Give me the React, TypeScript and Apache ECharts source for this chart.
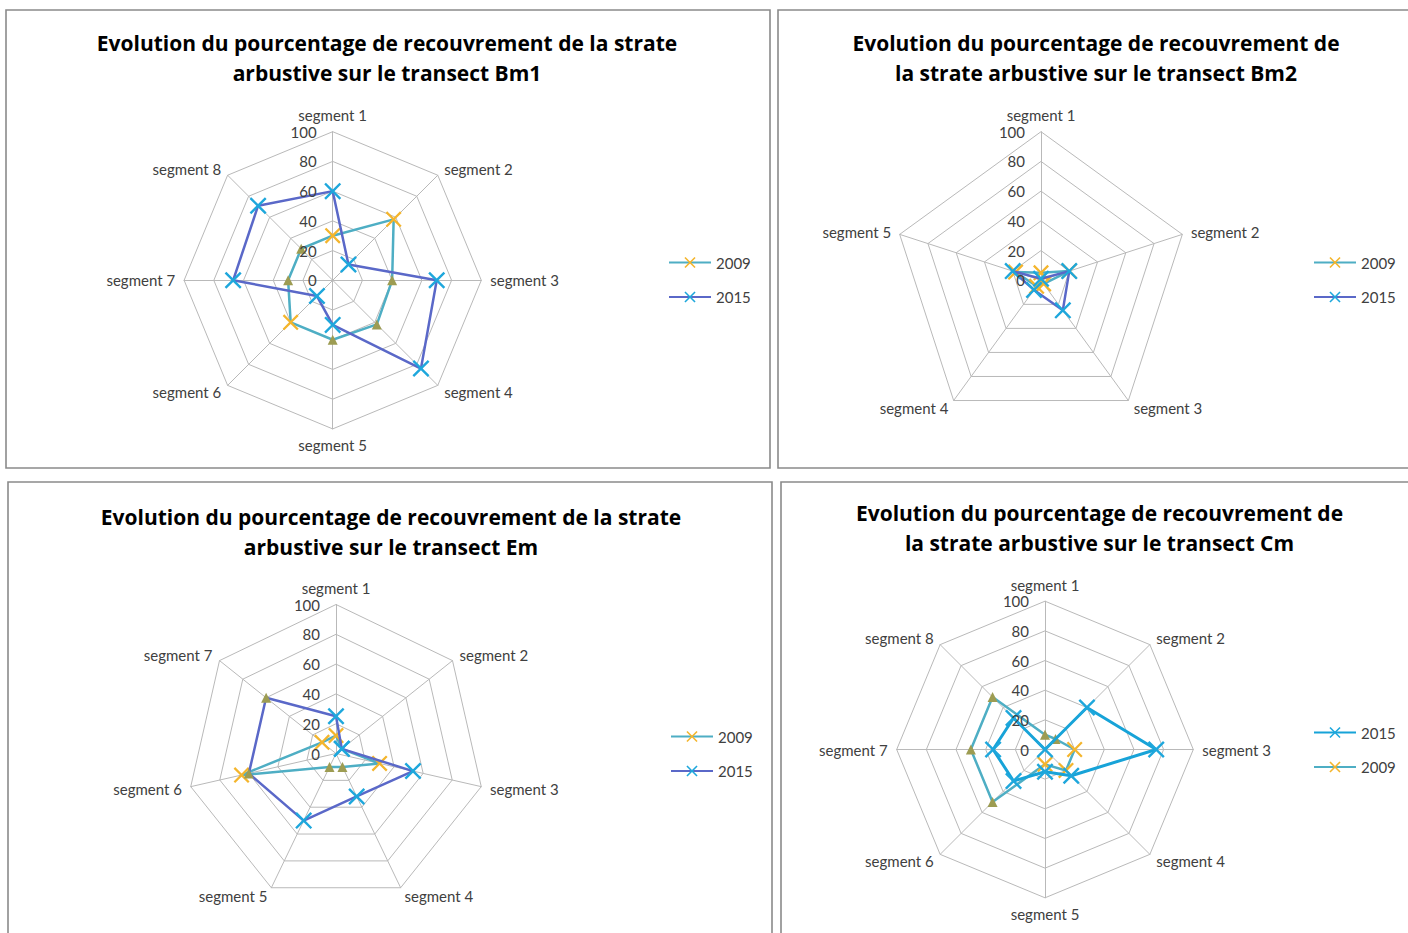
import React, { useEffect, useRef } from 'react';
import * as echarts from 'echarts';

// ---------- DATA ----------
const bm1Segments = ['segment 1', 'segment 2', 'segment 3', 'segment 4', 'segment 5', 'segment 6', 'segment 7', 'segment 8'];
const bm1Values2009 = [30, 58, 40, 42, 40, 40, 30, 30];
const bm1Values2015 = [60, 15, 70, 84, 30, 15, 67, 71];
const bm1Markers2009 = ['xy', 'xy', 'tri', 'tri', 'tri', 'xy', 'tri', 'tri'];
const bm1Markers2015 = ['xc', 'xc', 'xc', 'xc', 'xc', 'xc', 'xc', 'xc'];

const bm2Segments = ['segment 1', 'segment 2', 'segment 3', 'segment 4', 'segment 5'];
const bm2Values2009 = [5, 20, 3, 5, 18];
const bm2Values2015 = [1, 20, 25, 8, 20];
const bm2Markers2009 = ['xy', 'xy', 'xy', 'xy', 'xy'];
const bm2Markers2015 = ['xc', 'xc', 'xc', 'xc', 'xc'];

const emSegments = ['segment 1', 'segment 2', 'segment 3', 'segment 4', 'segment 5', 'segment 6', 'segment 7'];
const emValues2009 = [12, 5, 30, 10, 10, 65, 12];
const emValues2015 = [25, 5, 53, 32, 50, 60, 60];
const emMarkers2009 = ['xy', 'xc', 'xy', 'tri', 'tri', 'xy', 'xy'];
const emMarkers2015 = ['xc', 'xc', 'xc', 'xc', 'xc', 'tri', 'tri'];

const cmSegments = ['segment 1', 'segment 2', 'segment 3', 'segment 4', 'segment 5', 'segment 6', 'segment 7', 'segment 8'];
const cmValues2015 = [0, 40, 75, 25, 15, 30, 35, 30];
const cmValues2009 = [10, 10, 20, 20, 10, 50, 50, 50];
const cmMarkers2015 = ['xc', 'xc', 'xc', 'xc', 'xc', 'xc', 'xc', 'xc'];
const cmMarkers2009 = ['tri', 'tri', 'xy', 'xy', 'xy', 'tri', 'tri', 'tri'];

const axisMax = 100;
const axisInterval = 20;

const titleBm1 = ['Evolution du pourcentage de recouvrement de la strate', 'arbustive sur le transect Bm1'];
const titleBm2 = ['Evolution du pourcentage de recouvrement de', 'la strate arbustive sur le transect Bm2'];
const titleEm = ['Evolution du pourcentage de recouvrement de la strate', 'arbustive sur le transect Em'];
const titleCm = ['Evolution du pourcentage de recouvrement de', 'la strate arbustive sur le transect Cm'];

// ---------- STYLE ----------
const FONT = 'Lato, "Open Sans", sans-serif';
const TITLE_FONT = '"Open Sans", Lato, sans-serif';
const TEXT = '#404040';
const GRID = '#b9b9b9';
const X_PATH = 'path://M0,1L1,0L5,4L9,0L10,1L6,5L10,9L9,10L5,6L1,10L0,9L4,5Z';
const YELLOW = '#f4b52c';
const CYAN = '#1ea7dc';
const OLIVE = '#9d9c52';
const TEAL = '#4eaec4';
const BLUE = '#5a68c8';
const CM_CYAN = '#17a3d8';

const markerStyle: Record<string, { symbol: string; size: number; color: string }> = {
  xy: { symbol: X_PATH, size: 16, color: YELLOW },
  xc: { symbol: X_PATH, size: 17, color: CYAN },
  tri: { symbol: 'triangle', size: 10, color: OLIVE },
};

type Panel = {
  key: string;
  segments: string[];
  center: [number, number];
  radius: number;
  title: string[];
  titleX: number;
  titleY: number;
  legendX: number;
  legendY: number;
  series: { year: string; values: number[]; markers: string[]; color: string; width: number; legendMarker: string }[];
  legendOrder: string[];
};

const panels: Panel[] = [
  {
    key: 'Bm1', segments: bm1Segments, center: [332.7, 280.3], radius: 148.6,
    title: titleBm1, titleX: 387, titleY: 43, legendX: 668, legendY: 255,
    series: [
      { year: '2009', values: bm1Values2009, markers: bm1Markers2009, color: TEAL, width: 2.5, legendMarker: 'xy' },
      { year: '2015', values: bm1Values2015, markers: bm1Markers2015, color: BLUE, width: 2.5, legendMarker: 'xc' },
    ],
    legendOrder: ['2009', '2015'],
  },
  {
    key: 'Bm2', segments: bm2Segments, center: [1041, 280.3], radius: 148.6,
    title: titleBm2, titleX: 1096, titleY: 43, legendX: 1313, legendY: 255,
    series: [
      { year: '2009', values: bm2Values2009, markers: bm2Markers2009, color: TEAL, width: 2.5, legendMarker: 'xy' },
      { year: '2015', values: bm2Values2015, markers: bm2Markers2015, color: BLUE, width: 2.5, legendMarker: 'xc' },
    ],
    legendOrder: ['2009', '2015'],
  },
  {
    key: 'Em', segments: emSegments, center: [336, 753.5], radius: 149,
    title: titleEm, titleX: 391, titleY: 517, legendX: 670, legendY: 729,
    series: [
      { year: '2009', values: emValues2009, markers: emMarkers2009, color: TEAL, width: 2.5, legendMarker: 'xy' },
      { year: '2015', values: emValues2015, markers: emMarkers2015, color: BLUE, width: 2.5, legendMarker: 'xc' },
    ],
    legendOrder: ['2009', '2015'],
  },
  {
    key: 'Cm', segments: cmSegments, center: [1045, 749.5], radius: 148.3,
    title: titleCm, titleX: 1099.5, titleY: 513, legendX: 1313, legendY: 725,
    series: [
      { year: '2009', values: cmValues2009, markers: cmMarkers2009, color: TEAL, width: 2.5, legendMarker: 'xy' },
      { year: '2015', values: cmValues2015, markers: cmMarkers2015, color: CM_CYAN, width: 3, legendMarker: 'xc' },
    ],
    legendOrder: ['2015', '2009'],
  },
];

const borders = [
  { x: 6, y: 10, w: 764, h: 458 },
  { x: 778, y: 10, w: 640, h: 458 },
  { x: 8, y: 482, w: 764, h: 470 },
  { x: 781, y: 482, w: 640, h: 470 },
];

function buildOption() {
  const radar: any[] = [];
  const polar: any[] = [];
  const angleAxis: any[] = [];
  const radiusAxis: any[] = [];
  const legend: any[] = [];
  const series: any[] = [];
  const graphic: any[] = [];

  borders.forEach((b) => {
    graphic.push({
      type: 'rect', silent: true, z: 0,
      shape: { x: b.x, y: b.y, width: b.w, height: b.h },
      style: { fill: 'none', stroke: '#8a8a8a', lineWidth: 1.6 },
    });
  });

  panels.forEach((p, pi) => {
    const n = p.segments.length;
    // ECharts radar goes counter-clockwise: reverse order after first to get clockwise layout
    const ordered = [p.segments[0], ...p.segments.slice(1).reverse()];
    radar.push({
      center: p.center,
      radius: p.radius,
      startAngle: 90,
      shape: 'polygon',
      splitNumber: axisMax / axisInterval,
      indicator: ordered.map((name) => ({ name, max: axisMax, min: 0 })),
      nameGap: 9,
      axisName: { color: TEXT, fontSize: 15, fontFamily: FONT },
      axisLine: { lineStyle: { color: GRID, width: 1 } },
      splitLine: { lineStyle: { color: GRID, width: 1 } },
      splitArea: { show: false },
      axisTick: { show: false },
      axisLabel: { show: false },
      silent: true,
    });
    polar.push({ center: p.center, radius: p.radius });
    angleAxis.push({
      polarIndex: pi, type: 'value', min: 0, max: 360, startAngle: 90, clockwise: true,
      show: false,
    });
    radiusAxis.push({
      polarIndex: pi, type: 'value', min: 0, max: axisMax, interval: axisInterval,
      axisLine: { show: false }, axisTick: { show: false }, splitLine: { show: false },
      axisLabel: { color: TEXT, fontSize: 15, fontFamily: FONT, margin: 16 },
      z: 5,
    });
    p.series.forEach((s) => {
      const lm = markerStyle[s.legendMarker];
      const data: any[] = s.values.map((v, i) => {
        const m = markerStyle[s.markers[i]];
        return {
          value: [v, (i * 360) / n],
          symbol: m ? m.symbol : 'none',
          symbolSize: m ? m.size : 0,
          itemStyle: { color: m ? m.color : s.color },
        };
      });
      data.push({ value: [s.values[0], 360], symbol: 'none', symbolSize: 0 });
      series.push({
        type: 'line',
        name: p.key + '|' + s.year,
        coordinateSystem: 'polar',
        polarIndex: pi,
        data,
        symbol: lm.symbol,
        symbolSize: lm.size,
        showSymbol: true,
        itemStyle: { color: lm.color },
        lineStyle: { color: s.color, width: s.width },
        z: s.year === '2015' ? 4 : 3,
        clip: false,
        silent: true,
      });
    });
    legend.push({
      data: p.legendOrder.map((y) => p.key + '|' + y),
      orient: 'vertical',
      left: p.legendX,
      top: p.legendY,
      padding: 0,
      itemWidth: 42,
      itemHeight: 14,
      itemGap: 19.5,
      formatter: (name: string) => name.split('|')[1],
      textStyle: { color: TEXT, fontSize: 15, fontFamily: FONT },
      selectedMode: false,
    });
    p.title.forEach((line, li) => {
      graphic.push({
        type: 'text', silent: true,
        x: p.titleX, y: p.titleY + li * 30,
        style: {
          text: line, fill: '#000', font: 'bold 21px ' + TITLE_FONT,
          textAlign: 'center', textVerticalAlign: 'middle',
        },
      });
    });
  });

  return {
    animation: false,
    backgroundColor: '#ffffff',
    radar, polar, angleAxis, radiusAxis, legend, series, graphic,
  };
}

export default function App() {
  const ref = useRef<HTMLDivElement>(null);
  useEffect(() => {
    if (!ref.current) return;
    const chart = echarts.init(ref.current, undefined, { renderer: 'svg' });
    chart.setOption(buildOption() as any);
    return () => chart.dispose();
  }, []);
  return (
    <div
      ref={ref}
      style={{ position: 'fixed', left: 0, top: 0, width: 1408, height: 933, background: '#fff' }}
    />
  );
}
